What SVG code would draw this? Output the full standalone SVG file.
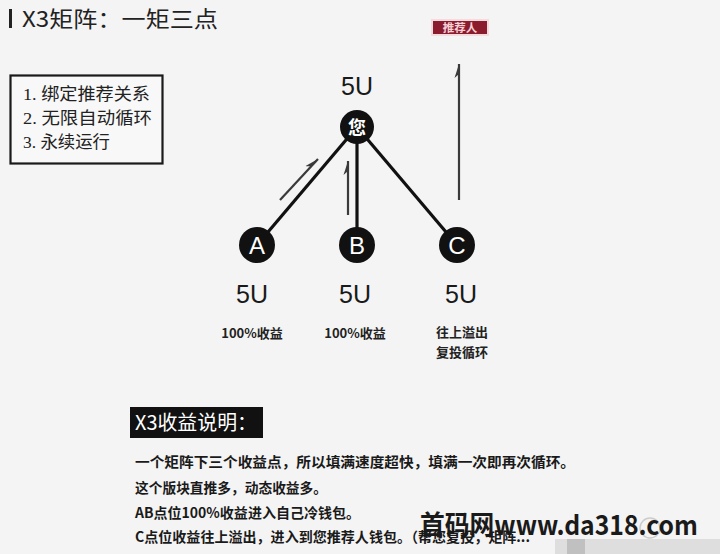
<svg xmlns="http://www.w3.org/2000/svg" width="720" height="554" viewBox="0 0 720 554">
<defs>
<style>
.sans{font-family:"Liberation Sans","Noto Sans CJK SC",sans-serif;}
.cjk{font-family:"Noto Sans CJK SC","Liberation Sans",sans-serif;}
.serif{font-family:"Liberation Serif","Noto Sans CJK SC",serif;}
.edge{stroke:#111;stroke-width:3.2;fill:none;}
.flow{stroke:#3a3a3a;stroke-width:2.2;fill:none;marker-end:url(#harpoon);}
.node{fill:#111;}
.nlabel{fill:#fff;font-size:24px;text-anchor:middle;}
.val{fill:#1a1a1a;font-size:25px;text-anchor:middle;}
.note{fill:#222;font-size:13px;text-anchor:middle;font-weight:bold;}
.body{fill:#1a1a1a;font-size:14.2px;font-weight:bold;}
.feat{fill:#222;font-size:17.5px;}
</style>
<marker id="harpoon" markerUnits="userSpaceOnUse" markerWidth="14" markerHeight="10" viewBox="0 0 14 10" refX="14" refY="5" orient="auto">
<path d="M14,5 L0,0.5 L4,5 Z" fill="#3a3a3a"/>
</marker>
</defs>
<rect x="0" y="0" width="720" height="554" fill="#f4f4f4"/>

<g id="title">
<rect x="9" y="9" width="3" height="19" fill="#222"/>
<text x="22" y="27" class="cjk" font-size="22" fill="#222" textLength="196" lengthAdjust="spacingAndGlyphs">X3矩阵：一矩三点</text>
</g>

<g id="features">
<rect x="10.5" y="75.5" width="152" height="88" fill="#f8f8f8" stroke="#1a1a1a" stroke-width="2.2"/>
<text x="23" y="100" class="serif feat" textLength="127" lengthAdjust="spacingAndGlyphs">1. 绑定推荐关系</text>
<text x="23" y="124" class="serif feat" textLength="129" lengthAdjust="spacingAndGlyphs">2. 无限自动循环</text>
<text x="23" y="148" class="serif feat" textLength="87" lengthAdjust="spacingAndGlyphs">3. 永续运行</text>
</g>

<g id="connectors">
<line class="edge" x1="357" y1="127" x2="257" y2="245"/>
<line class="edge" x1="357" y1="127" x2="357" y2="245"/>
<line class="edge" x1="357" y1="127" x2="457" y2="245"/>
<line class="flow" x1="280" y1="200" x2="318" y2="159"/>
<line class="flow" x1="348" y1="215" x2="348" y2="161"/>
<line class="flow" x1="459" y1="200" x2="459" y2="64"/>
</g>

<g id="referrer">
<rect x="431" y="19" width="58" height="17" fill="#f3c9cf" opacity="0.6"/>
<rect x="433" y="21" width="54" height="13" fill="#8a1c2e"/>
<text x="460" y="32" class="cjk" font-size="11.5" font-weight="bold" fill="#f6d0d6" text-anchor="middle">推荐人</text>
</g>

<g id="you">
<text x="357" y="95" class="sans val">5U</text>
<circle class="node" cx="357" cy="127" r="17"/>
<text x="357" y="134" class="cjk" font-size="18" fill="#fff" text-anchor="middle" font-weight="bold">您</text>
</g>

<g id="nodeA">
<circle class="node" cx="257" cy="245" r="18"/>
<text x="257" y="254" class="sans nlabel">A</text>
<text x="252" y="303" class="sans val">5U</text>
<text x="252" y="338" class="cjk note">100%收益</text>
</g>

<g id="nodeB">
<circle class="node" cx="357" cy="245" r="18"/>
<text x="357" y="254" class="sans nlabel">B</text>
<text x="355" y="303" class="sans val">5U</text>
<text x="355" y="338" class="cjk note">100%收益</text>
</g>

<g id="nodeC">
<circle class="node" cx="457" cy="245" r="18"/>
<text x="457" y="254" class="sans nlabel">C</text>
<text x="461" y="303" class="sans val">5U</text>
<text x="462" y="337" class="cjk note">往上溢出</text>
<text x="462" y="357" class="cjk note">复投循环</text>
</g>

<g id="explain">
<rect x="130" y="407" width="133" height="31" fill="#111"/>
<text x="135" y="430" class="cjk" font-size="20" fill="#fff" textLength="122" lengthAdjust="spacingAndGlyphs">X3收益说明：</text>
<text x="135" y="467" class="cjk body" textLength="440" lengthAdjust="spacingAndGlyphs">一个矩阵下三个收益点，所以填满速度超快，填满一次即再次循环。</text>
<text x="135" y="493" class="cjk body" textLength="192" lengthAdjust="spacingAndGlyphs">这个版块直推多，动态收益多。</text>
<text x="135" y="518" class="cjk body" textLength="225" lengthAdjust="spacingAndGlyphs">AB点位100%收益进入自己冷钱包。</text>
<text x="135" y="542" class="cjk body" textLength="395" lengthAdjust="spacingAndGlyphs">C点位收益往上溢出，进入到您推荐人钱包。（帮您复投，矩阵...</text>
</g>

<g id="watermark">
<rect x="555" y="539" width="165" height="15" fill="#d8d8d8" opacity="0.8"/>
<rect x="567" y="539" width="18" height="15" fill="#b8b8b8" opacity="0.8"/>
<circle cx="650" cy="528" r="10" fill="none" stroke="#ccc" stroke-width="1.5"/>
<text x="420" y="535" class="cjk" font-size="27" font-weight="bold" fill="#1a1a1a" textLength="278" lengthAdjust="spacingAndGlyphs">首码网www.da318.com</text>
</g>
</svg>
